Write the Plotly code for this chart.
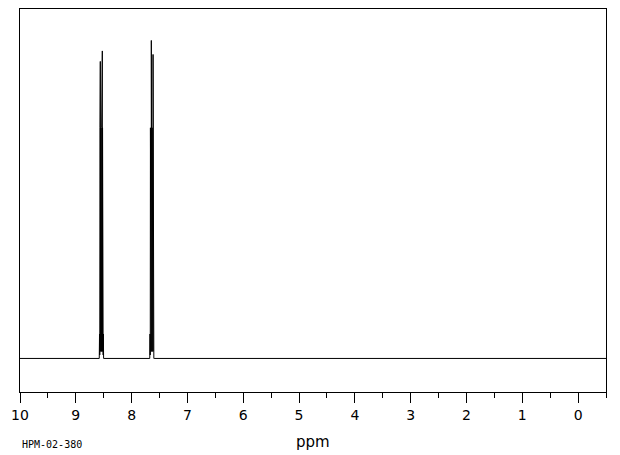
import plotly.graph_objects as go

# Spectrum vertices (ppm, intensity), ordered by descending ppm
ppm = [10.0,
       8.580, 8.575, 8.571,
       8.567, 8.565, 8.563, 8.561, 8.559, 8.557, 8.555, 8.553, 8.551, 8.549, 8.547, 8.545,
       8.543, 8.541, 8.539, 8.537, 8.535, 8.533, 8.531, 8.529, 8.527, 8.525, 8.523, 8.521,
       8.519, 8.517, 8.515, 8.513, 8.510, 8.506, 8.502,
       7.675, 7.670, 7.666,
       7.663, 7.661, 7.659, 7.657, 7.655, 7.653, 7.651, 7.649, 7.647, 7.645, 7.643, 7.641,
       7.639, 7.637, 7.635, 7.633, 7.631, 7.629, 7.627, 7.625, 7.623, 7.621, 7.619, 7.617,
       7.616, 7.614, 7.612, 7.610, 7.606, 7.602, 7.597,
       -0.5]
intensity = [0.0,
             0.0, 7.0, 1.0,
             66.0, 2.0, 66.0, 85.0, 2.0, 66.0, 2.0, 66.0, 2.0, 66.0, 2.0, 66.0,
             2.0, 66.0, 2.0, 66.0, 2.0, 66.0, 2.0, 66.0, 2.0, 88.0, 2.0, 66.0,
             2.0, 66.0, 2.0, 66.0, 1.0, 7.0, 0.0,
             0.0, 7.0, 1.0,
             66.0, 2.0, 66.0, 2.0, 66.0, 2.0, 66.0, 2.0, 91.0, 2.0, 66.0, 2.0,
             66.0, 2.0, 66.0, 2.0, 66.0, 2.0, 66.0, 2.0, 66.0, 2.0, 66.0, 2.0,
             87.0, 2.0, 66.0, 1.0, 7.0, 0.0, 0.0,
             0.0]

tick_values = [10, 9, 8, 7, 6, 5, 4, 3, 2, 1, 0]
tick_labels = [str(v) for v in tick_values]
x_title = "ppm"
sample_label = "HPM-02-380"

fig = go.Figure()
fig.add_trace(go.Scatter(x=ppm, y=intensity, mode="lines",
                         line=dict(color="black", width=1), hoverinfo="skip",
                         showlegend=False))

fig.update_layout(
    width=620, height=455,
    margin=dict(l=20, r=14, t=9, b=63, autoexpand=False),
    paper_bgcolor="white", plot_bgcolor="white",
    font=dict(family="DejaVu Sans", color="black"),
    xaxis=dict(range=[10, -0.5], showgrid=False, zeroline=False, automargin=False,
               showline=True, linecolor="black", linewidth=1, mirror=True,
               ticks="outside", ticklen=10, tickwidth=1, tickcolor="black",
               tickvals=tick_values, ticktext=tick_labels,
               tickfont=dict(size=14, family="DejaVu Sans"),
               minor=dict(dtick=0.5, ticks="outside", ticklen=5,
                          tickcolor="black", tickwidth=1, showgrid=False)),
    yaxis=dict(range=[-9.6, 100], showgrid=False, zeroline=False, automargin=False,
               showline=True, linecolor="black", linewidth=1, mirror=True,
               showticklabels=False, ticks=""),
    annotations=[
        dict(text=x_title, xref="paper", yref="paper", x=0.5, y=0,
             yshift=-50, xanchor="center", yanchor="middle", showarrow=False,
             font=dict(size=15, family="DejaVu Sans")),
        dict(text=sample_label, xref="paper", yref="paper", x=0, y=0,
             yshift=-52, xanchor="left", yanchor="middle", showarrow=False,
             font=dict(size=10, family="DejaVu Sans Mono")),
    ],
)

fig.write_html("out.html", config={"displayModeBar": False},
               post_script="document.body.style.margin='0';document.body.style.padding='0';")
